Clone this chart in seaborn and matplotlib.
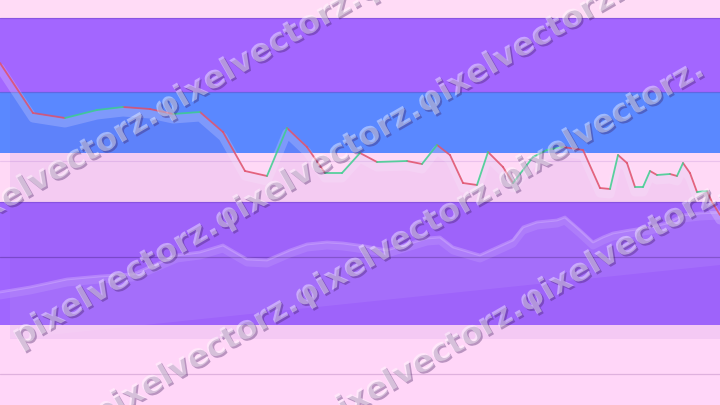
import numpy as np
import pandas as pd
import matplotlib
matplotlib.use("Agg")
import matplotlib.pyplot as plt
import matplotlib.patheffects as pe
import matplotlib.transforms as mtransforms
from matplotlib.patches import Rectangle
import seaborn as sns

# ---------------- data ----------------
# horizontal background bands (value ranges, bottom -> top)
band_bottom = [387, 313, 252, 203, 80, 0]
band_top = [405, 387, 313, 252, 203, 80]
band_color = ["#FFDBF6", "#A366FF", "#5A88FF", "#FFD9F6", "#A066FF", "#FFD6F8"]
band_edges = [387, 313, 203]

# main series (red down / green up)
main_x = [0, 33, 65, 97, 123, 150, 173, 200, 223, 245, 267, 287, 307, 325, 342,
          360, 377, 407, 422, 437, 450, 463, 477, 488, 503, 513, 533, 547, 563,
          583, 600, 610, 618, 627, 635, 643, 650, 657, 670, 677, 683, 690, 697,
          707, 712, 720]
main_v = [342, 292, 287, 295, 298, 296, 291, 293, 273, 234, 229, 277, 258, 232,
          232, 252, 243, 244, 241, 260, 250, 222, 220, 253, 238, 222, 248, 255,
          258, 255, 217, 216, 250, 242, 218, 218, 234, 230, 231, 229, 242, 232,
          213, 214, 203, 190]
main_base = 66

# faint secondary series
faint_x = [0, 30, 67, 100, 133, 177, 200, 223, 247, 267, 290, 307, 327, 343, 365,
           387, 427, 440, 453, 473, 480, 513, 523, 537, 557, 565, 580, 593, 603,
           613, 630, 650, 667, 683, 700, 720]
faint_v = [113, 118, 126, 129, 131, 150, 153, 160, 146, 145, 155, 161, 163, 162,
           159, 155, 167, 168, 158, 152, 150, 165, 178, 183, 185, 188, 175, 163,
           168, 172, 175, 178, 182, 190, 192, 193]
faint_base_x = [10, 720]
faint_base_v = [66, 140]

grid_v = [244, 148, 31]

wm_text = "pixelvectorz.\u03c6ixelvectorz.\u03c6ixelvectorz."
wm_x = [-45, 15, 95, 320]
wm_v = [176, 65, -12, -17]

# ---------------- figure ----------------
sns.set_theme(style="white")
fig = plt.figure(figsize=(7.2, 4.05), dpi=100)
ax = fig.add_axes([0, 0, 1, 1])
ax.set_xlim(0, 720)
ax.set_ylim(0, 405)
ax.set_axis_off()

for b, t, c in zip(band_bottom, band_top, band_color):
    ax.axhspan(b, t, color=c, lw=0, zorder=0)
for e in band_edges:
    ax.axhline(e, color="#6a3fc0", lw=0.9, alpha=0.45, zorder=1)
ax.axhline(grid_v[0], color="#b080d0", lw=0.8, alpha=0.25, zorder=1)
ax.axhline(grid_v[1], color="#5a30a0", lw=0.9, alpha=0.55, zorder=1)
ax.axhline(grid_v[2], color="#d8a8d8", lw=0.9, alpha=0.8, zorder=1)

panel = Rectangle((10, 0), 720, 405, transform=ax.transData)

# fill under main series
mx = np.array(main_x)
mv = np.array(main_v)
f1 = ax.fill_between(mx, mv, main_base, color="#8a48d0", alpha=0.09, lw=0, zorder=2)
f1.set_clip_path(panel)

# faint series fill + line
fx = np.array(faint_x)
fv = np.array(faint_v)
base = np.interp(fx, faint_base_x, faint_base_v)
f2 = ax.fill_between(fx, fv, base, color="white", alpha=0.07, lw=0, zorder=2)
f2.set_clip_path(Rectangle((10, 0), 720, 405, transform=ax.transData))
off_faint = mtransforms.offset_copy(ax.transData, fig=fig, x=0, y=-4, units="dots")
sns.lineplot(x=faint_x, y=faint_v, ax=ax, color="white", alpha=0.10, lw=5.0,
             transform=off_faint, zorder=3, sort=False)
sns.lineplot(x=faint_x, y=faint_v, ax=ax, color="#e8d0ff", alpha=0.3, lw=2.0,
             zorder=3, sort=False)

# main series shadow band
off_main = mtransforms.offset_copy(ax.transData, fig=fig, x=0, y=-5, units="dots")
sns.lineplot(x=main_x, y=main_v, ax=ax, color="#f4ecff", alpha=0.22, lw=6.5,
             transform=off_main, zorder=3, sort=False)

# coloured segments
rows = []
for i in range(len(main_x) - 1):
    d = "up" if main_v[i + 1] >= main_v[i] else "down"
    rows.append((main_x[i], main_v[i], i, d))
    rows.append((main_x[i + 1], main_v[i + 1], i, d))
seg = pd.DataFrame(rows, columns=["x", "v", "seg", "dir"])
sns.lineplot(data=seg, x="x", y="v", units="seg", estimator=None, hue="dir",
             palette={"up": "#3ccf8e", "down": "#e0506a"}, lw=1.3, alpha=0.85,
             sort=False, legend=False, ax=ax, zorder=4)

# watermark
for x0, v0 in zip(wm_x, wm_v):
    ax.text(x0, v0, wm_text, rotation=30, rotation_mode="anchor", ha="left",
            va="center", fontsize=23, fontweight="bold", color="white", alpha=0.42,
            family="DejaVu Sans", zorder=6, clip_on=True,
            path_effects=[pe.SimplePatchShadow(offset=(1.3, -1.3),
                                               shadow_rgbFace="#3a1a5a", alpha=0.35),
                          pe.Normal()])

fig.savefig("out.png", dpi=100)
